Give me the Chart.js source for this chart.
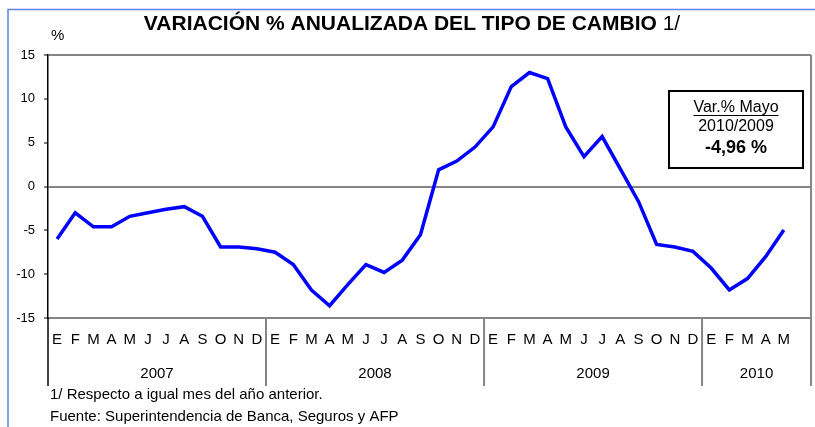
<!DOCTYPE html>
<html>
<head>
<meta charset="utf-8">
<script src="https://cdn.jsdelivr.net/npm/chart.js@4.4.1/dist/chart.umd.min.js"></script>
<style>
  html, body { margin: 0; padding: 0; background: #ffffff; }
  canvas { display: block; }
</style>
</head>
<body>
<canvas id="c" width="815" height="427"></canvas>
<script>
// ---- data ----
const monthLabels = [
  'E','F','M','A','M','J','J','A','S','O','N','D',
  'E','F','M','A','M','J','J','A','S','O','N','D',
  'E','F','M','A','M','J','J','A','S','O','N','D',
  'E','F','M','A','M',''
];
const years = ['2007', '2008', '2009', '2010'];
const yearGroupStart = [0, 12, 24, 36];
const variacion = [
  -6.0, -3.0, -4.6, -4.6, -3.4, -3.0, -2.6, -2.3, -3.4, -6.9, -6.9, -7.1,
  -7.5, -8.9, -11.8, -13.6, -11.2, -8.9, -9.8, -8.4, -5.5, 1.9, 2.9, 4.5,
  6.8, 11.4, 13.0, 12.3, 6.8, 3.4, 5.7, 2.0, -1.7, -6.6, -6.9, -7.4,
  -9.3, -11.8, -10.5, -8.0, -4.96
];
const yTicks = [-15, -10, -5, 0, 5, 10, 15];
const titleBold = 'VARIACIÓN % ANUALIZADA DEL TIPO DE CAMBIO';
const titleNormal = ' 1/';
const footnotes = [
  '1/ Respecto a igual mes del año anterior.',
  'Fuente: Superintendencia de Banca, Seguros y AFP'
];
const boxLines = ['Var.% Mayo', '2010/2009', '-4,96 %'];

const FONT = "'Liberation Sans', Arial, sans-serif";
const GRAY = '#858585';

const decor = {
  id: 'decor',
  afterDraw(chart) {
    const ctx = chart.ctx;
    const ca = chart.chartArea;
    const xs = chart.scales.x;
    const n = monthLabels.length;
    const step = (ca.right - ca.left) / n;
    ctx.save();

    // outer blue frame
    ctx.strokeStyle = '#5b84e4';
    ctx.lineWidth = 1.5;
    ctx.beginPath();
    ctx.moveTo(8, 427); ctx.lineTo(8, 9.5); ctx.lineTo(815, 9.5);
    ctx.stroke();

    // title
    ctx.fillStyle = '#000';
    ctx.textBaseline = 'middle';
    ctx.font = 'bold 21px ' + FONT;
    const wb = ctx.measureText(titleBold).width;
    ctx.font = '21px ' + FONT;
    const wn = ctx.measureText(titleNormal).width;
    let tx = 412 - (wb + wn) / 2;
    ctx.textAlign = 'left';
    ctx.font = 'bold 21px ' + FONT;
    ctx.fillText(titleBold, tx, 24);
    ctx.font = '21px ' + FONT;
    ctx.fillText(titleNormal, tx + wb, 24);

    // % unit
    ctx.font = '15px ' + FONT;
    ctx.fillText('%', ca.left + 3, 36);

    // right border of plot
    ctx.strokeStyle = GRAY;
    ctx.lineWidth = 2;
    ctx.beginPath();
    ctx.moveTo(ca.right, ca.top); ctx.lineTo(ca.right, ca.bottom + 68);
    ctx.stroke();

    // year separators & labels
    ctx.font = '15px ' + FONT;
    ctx.textAlign = 'center';
    for (let i = 0; i < years.length; i++) {
      const s = yearGroupStart[i];
      const e = i + 1 < years.length ? yearGroupStart[i + 1] : n;
      const xl = xs.getPixelForValue(s) - step / 2;
      const xr = xs.getPixelForValue(e - 1) + step / 2;
      if (i > 0) {
        ctx.strokeStyle = GRAY;
        ctx.lineWidth = 2;
        ctx.beginPath();
        ctx.moveTo(xl, ca.bottom); ctx.lineTo(xl, ca.bottom + 68);
        ctx.stroke();
      }
      ctx.fillStyle = '#000';
      ctx.fillText(years[i], (xl + xr) / 2, ca.bottom + 56);
    }
    // left axis extension
    ctx.strokeStyle = '#000';
    ctx.lineWidth = 1.5;
    ctx.beginPath();
    ctx.moveTo(ca.left, ca.bottom); ctx.lineTo(ca.left, ca.bottom + 68);
    ctx.stroke();

    // footnotes
    ctx.textAlign = 'left';
    ctx.font = '15px ' + FONT;
    ctx.fillText(footnotes[0], ca.left + 2, ca.bottom + 77);
    ctx.fillText(footnotes[1], ca.left + 2, ca.bottom + 99);

    // annotation box
    const bx = 669, by = 91, bw = 134, bh = 77;
    ctx.fillStyle = '#fff';
    ctx.fillRect(bx, by, bw, bh);
    ctx.strokeStyle = '#000';
    ctx.lineWidth = 2;
    ctx.strokeRect(bx, by, bw, bh);
    const cx = bx + bw / 2;
    ctx.fillStyle = '#000';
    ctx.textAlign = 'center';
    ctx.font = '16px ' + FONT;
    ctx.fillText(boxLines[0], cx, 108);
    const uw = ctx.measureText(boxLines[0]).width;
    ctx.lineWidth = 1;
    ctx.beginPath();
    ctx.moveTo(cx - uw / 2, 115.5); ctx.lineTo(cx + uw / 2, 115.5);
    ctx.stroke();
    ctx.fillText(boxLines[1], cx, 127);
    ctx.font = 'bold 18px ' + FONT;
    ctx.fillText(boxLines[2], cx, 148);

    ctx.restore();
  }
};

new Chart(document.getElementById('c'), {
  type: 'line',
  data: {
    labels: monthLabels,
    datasets: [{
      data: variacion,
      borderColor: '#0000ff',
      borderWidth: 3.5,
      pointRadius: 0,
      tension: 0,
      fill: false
    }]
  },
  options: {
    responsive: false,
    devicePixelRatio: 1,
    animation: false,
    layout: { padding: { left: 0, top: 55, right: 2, bottom: 0 } },
    plugins: { legend: { display: false }, tooltip: { enabled: false }, title: { display: false } },
    scales: {
      x: {
        type: 'category',
        offset: true,
        grid: { display: false, drawTicks: false },
        border: { display: true, color: GRAY, width: 2 },
        ticks: {
          autoSkip: false, maxRotation: 0, minRotation: 0,
          color: '#000', padding: 13,
          font: { family: FONT, size: 15 }
        },
        afterFit(scale) { scale.height = 109; }
      },
      y: {
        min: -15, max: 15,
        afterBuildTicks(scale) { scale.ticks = yTicks.map(v => ({ value: v })); },
        grid: {
          color: (c) => (c.tick && (c.tick.value === 0 || c.tick.value === 15)) ? GRAY : 'rgba(0,0,0,0)',
          lineWidth: 2,
          tickColor: '#000',
          tickLength: 4,
          tickWidth: 1
        },
        border: { display: true, color: '#000', width: 1.5 },
        ticks: {
          color: '#000', padding: 9,
          font: { family: FONT, size: 13 }
        },
        afterFit(scale) { scale.width = 48; }
      }
    }
  },
  plugins: [decor]
});
</script>
</body>
</html>
